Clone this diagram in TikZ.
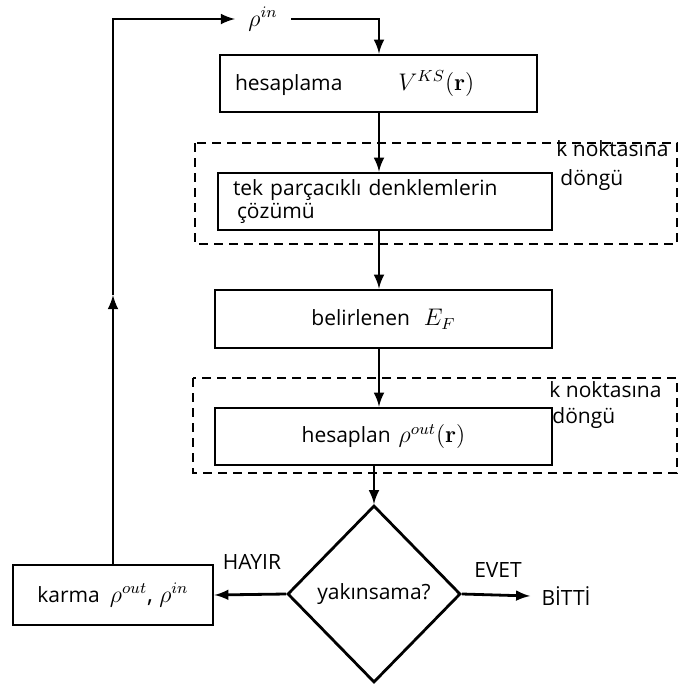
\documentclass[tikz,border=0pt]{standalone}
\usepackage[no-math]{fontspec}
\setmainfont{Open Sans}
\usetikzlibrary{shapes.geometric}

\begin{document}
\begin{tikzpicture}[x=0.5pt, y=-0.5pt, line width=1.4pt, >=latex,
    font=\fontsize{10.5}{12}\selectfont,
    box/.style={draw, inner sep=0pt, minimum height=28.5pt},
    leftbox/.style={box, inner xsep=7.5pt, align=left},
    loopbox/.style={draw, dash pattern=on 4.5pt off 3pt, line width=1.2pt},
    note/.style={anchor=base west, inner sep=0pt}]
    % page frame
    \useasboundingbox (0,0) rectangle (679,687);

    % flow column
    \coordinate (col) at (379,0);

    % rho in
    \node[inner xsep=6pt] (rhoin) at (263,19) {\large$\rho^{in}$};

    % Kohn-Sham potential
    \node[leftbox, minimum width=158.5pt, text width=143.5pt] (hesap) at (378.5,83.5)
        {hesaplama\hspace{28pt}{\large$V^{KS}(\mathbf{r})$}};

    % loop over k points (1)
    \draw[loopbox] (195,143) rectangle (677,244);
    \node[note] (kpt1) at (555,156) {k noktasına};
    \node[note] (dongu1) at (559,185) {döngü};

    % single particle equations
    \node[leftbox, minimum width=167pt, text width=152pt,
        font=\fontsize{10.5}{10}\selectfont] (solve) at (385,201.5)
        {tek parçacıklı denklemlerin\\\hspace{2pt}çözümü};

    % Fermi energy
    \node[box, minimum width=168.5pt, minimum height=29pt] (fermi) at (383.5,319)
        {belirlenen\hspace{7pt}{\large$E_F$}};

    % loop over k points (2)
    \draw[loopbox] (193,378) rectangle (677,473);
    \node[note] (kpt2) at (548,397) {k noktasına};
    \node[note] (dongu2) at (551,423) {döngü};

    % output density
    \node[box, minimum width=168.5pt] (dens) at (383.5,436.5)
        {hesaplan\hspace{4pt}{\large$\rho^{out}(\mathbf{r})$}};

    % convergence test
    \node[draw, diamond, inner sep=1pt, minimum width=86.5pt, minimum height=88.5pt]
        (conv) at (374,594) {yakınsama?};

    % mixing
    \node[box, minimum width=100pt, minimum height=30pt] (mix) at (113,595)
        {karma\hspace{5pt}{\large$\rho^{out}$, $\rho^{in}$}};

    % end
    \node[inner xsep=5pt] (done) at (566,596) {BİTTİ};

    % branch labels
    \node (no) at (252,562) {HAYIR};
    \node (yes) at (498,570) {EVET};

    % arrows down the column
    \draw[->] (rhoin.east) -| (hesap.north -| col);
    \draw[->] (hesap.south -| col) -- (solve.north -| col);
    \draw[->] (solve.south -| col) -- (fermi.north -| col);
    \draw[->] (fermi.south -| col) -- (dens.north -| col);
    \draw[->] (dens.south -| conv.north) -- (conv.north);

    % branches
    \draw[->] (conv.west) -- (mix.east);
    \draw[->] (conv.east) -- (done.west);

    % back to rho in
    \coordinate (up) at (113,295);
    \draw[->] (mix.north) -- (up);
    \draw[->] (up) |- (rhoin.west);
\end{tikzpicture}
\end{document}
